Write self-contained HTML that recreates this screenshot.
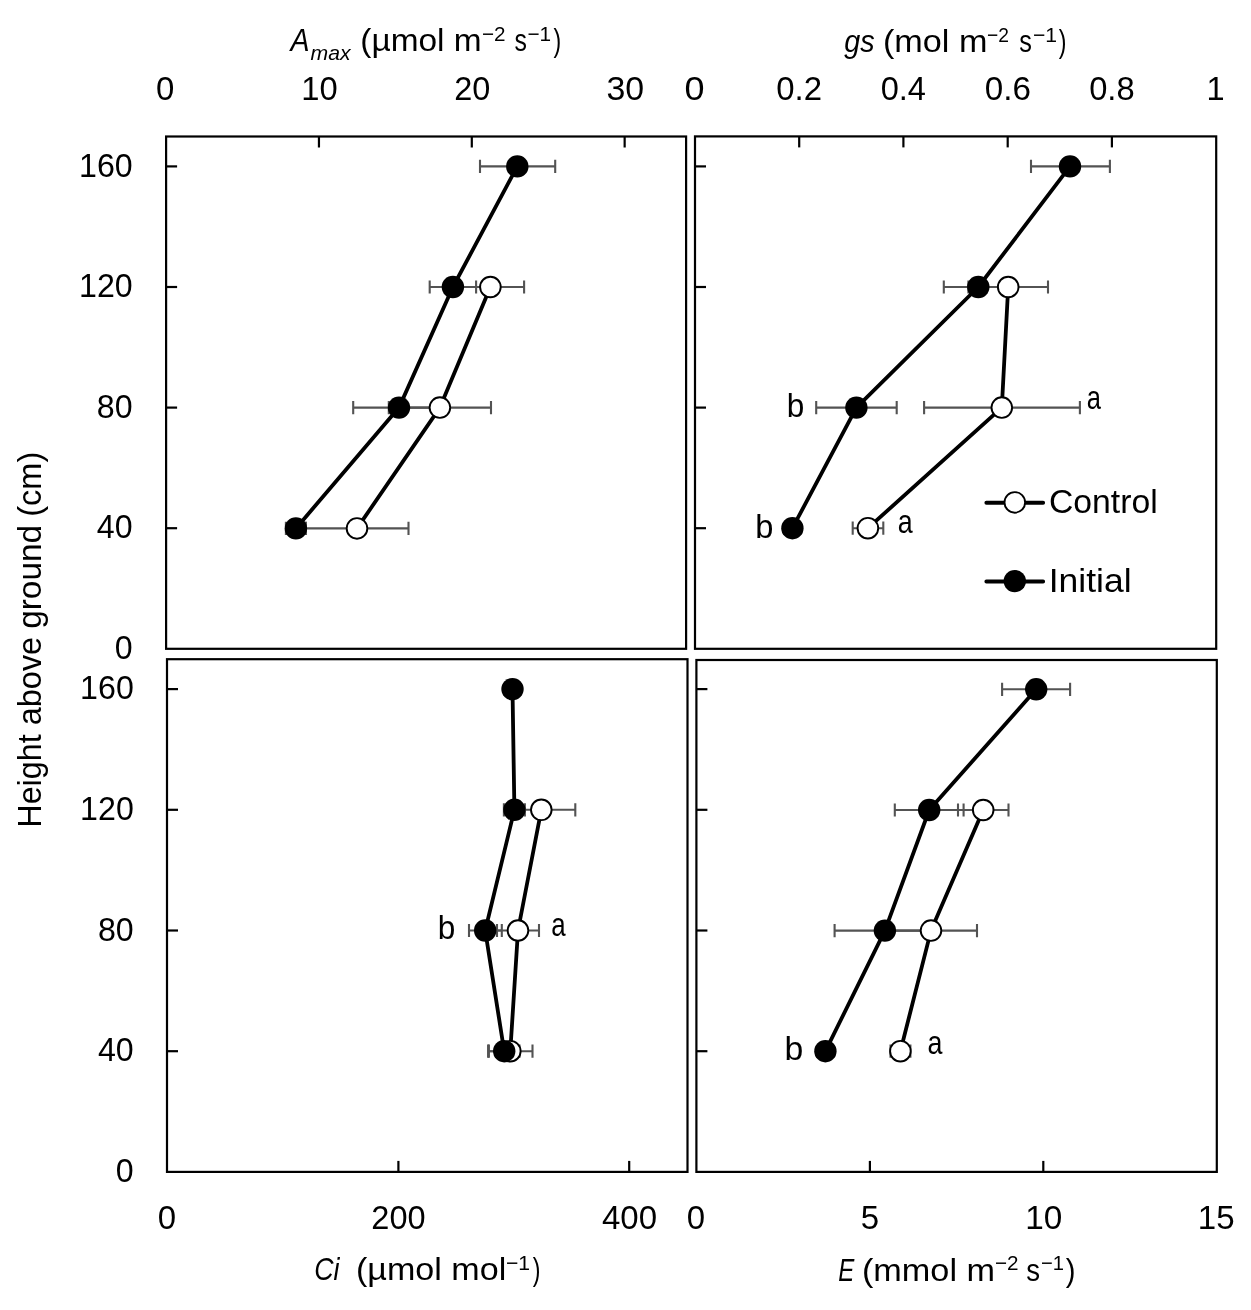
<!DOCTYPE html>
<html><head><meta charset="utf-8"><style>
html,body{margin:0;padding:0;background:#fff;}
svg{display:block;filter:grayscale(1);}
text{font-family:"Liberation Sans", sans-serif;fill:#000;}
</style></head><body>
<svg width="1251" height="1310" viewBox="0 0 1251 1310">
<rect width="1251" height="1310" fill="#fff"/>
<g id="frames">
<rect x="166.1" y="136.5" width="520.00" height="512.30" fill="none" stroke="#000" stroke-width="2.2"/>
<rect x="695.0" y="136.4" width="521.20" height="512.40" fill="none" stroke="#000" stroke-width="2.2"/>
<rect x="167.0" y="659.2" width="520.50" height="512.70" fill="none" stroke="#000" stroke-width="2.2"/>
<rect x="696.4" y="660.0" width="520.40" height="511.90" fill="none" stroke="#000" stroke-width="2.2"/>
<line x1="166.1" y1="166.4" x2="177.1" y2="166.4" stroke="#000" stroke-width="2.2"/>
<line x1="166.1" y1="287.0" x2="177.1" y2="287.0" stroke="#000" stroke-width="2.2"/>
<line x1="166.1" y1="407.6" x2="177.1" y2="407.6" stroke="#000" stroke-width="2.2"/>
<line x1="166.1" y1="528.2" x2="177.1" y2="528.2" stroke="#000" stroke-width="2.2"/>
<line x1="695.0" y1="166.4" x2="706.0" y2="166.4" stroke="#000" stroke-width="2.2"/>
<line x1="695.0" y1="287.0" x2="706.0" y2="287.0" stroke="#000" stroke-width="2.2"/>
<line x1="695.0" y1="407.6" x2="706.0" y2="407.6" stroke="#000" stroke-width="2.2"/>
<line x1="695.0" y1="528.2" x2="706.0" y2="528.2" stroke="#000" stroke-width="2.2"/>
<line x1="167.0" y1="689.1" x2="178.0" y2="689.1" stroke="#000" stroke-width="2.2"/>
<line x1="167.0" y1="809.8" x2="178.0" y2="809.8" stroke="#000" stroke-width="2.2"/>
<line x1="167.0" y1="930.5" x2="178.0" y2="930.5" stroke="#000" stroke-width="2.2"/>
<line x1="167.0" y1="1051.2" x2="178.0" y2="1051.2" stroke="#000" stroke-width="2.2"/>
<line x1="696.4" y1="689.1" x2="707.4" y2="689.1" stroke="#000" stroke-width="2.2"/>
<line x1="696.4" y1="809.8" x2="707.4" y2="809.8" stroke="#000" stroke-width="2.2"/>
<line x1="696.4" y1="930.5" x2="707.4" y2="930.5" stroke="#000" stroke-width="2.2"/>
<line x1="696.4" y1="1051.2" x2="707.4" y2="1051.2" stroke="#000" stroke-width="2.2"/>
<line x1="318.95" y1="136.5" x2="318.95" y2="147.5" stroke="#000" stroke-width="2.2"/>
<line x1="471.8" y1="136.5" x2="471.8" y2="147.5" stroke="#000" stroke-width="2.2"/>
<line x1="624.65" y1="136.5" x2="624.65" y2="147.5" stroke="#000" stroke-width="2.2"/>
<line x1="799.2" y1="136.4" x2="799.2" y2="147.4" stroke="#000" stroke-width="2.2"/>
<line x1="903.4" y1="136.4" x2="903.4" y2="147.4" stroke="#000" stroke-width="2.2"/>
<line x1="1007.7" y1="136.4" x2="1007.7" y2="147.4" stroke="#000" stroke-width="2.2"/>
<line x1="1111.9" y1="136.4" x2="1111.9" y2="147.4" stroke="#000" stroke-width="2.2"/>
<line x1="398.4" y1="1171.9" x2="398.4" y2="1160.9" stroke="#000" stroke-width="2.2"/>
<line x1="629.2" y1="1171.9" x2="629.2" y2="1160.9" stroke="#000" stroke-width="2.2"/>
<line x1="869.9" y1="1171.9" x2="869.9" y2="1160.9" stroke="#000" stroke-width="2.2"/>
<line x1="1043.3" y1="1171.9" x2="1043.3" y2="1160.9" stroke="#000" stroke-width="2.2"/>
</g>
<g id="eb" stroke="#535353" stroke-width="2.1" fill="none">
<path d="M456.7 287.0H524.1M456.7 280.4V293.6M524.1 280.4V293.6"/>
<path d="M388.8 407.6H491.0M388.8 401.0V414.20000000000005M491.0 401.0V414.20000000000005"/>
<path d="M305.5 528.4H408.5M305.5 521.8V535.0M408.5 521.8V535.0"/>
<path d="M480.0 166.4H555.2M480.0 159.8V173.0M555.2 159.8V173.0"/>
<path d="M429.7 287.0H476.1M429.7 280.4V293.6M476.1 280.4V293.6"/>
<path d="M353.2 407.6H444.8M353.2 401.0V414.20000000000005M444.8 401.0V414.20000000000005"/>
<path d="M285.9 528.4H305.9M285.9 521.8V535.0M305.9 521.8V535.0"/>
<path d="M968.4 287.0H1048.0M968.4 280.4V293.6M1048.0 280.4V293.6"/>
<path d="M924.1 407.6H1079.9M924.1 401.0V414.20000000000005M1079.9 401.0V414.20000000000005"/>
<path d="M852.7 528.2H883.3M852.7 521.6V534.8000000000001M883.3 521.6V534.8000000000001"/>
<path d="M1031.0 166.4H1109.9M1031.0 159.8V173.0M1109.9 159.8V173.0"/>
<path d="M943.8 287.0H1012.8M943.8 280.4V293.6M1012.8 280.4V293.6"/>
<path d="M816.2 407.6H896.7M816.2 401.0V414.20000000000005M896.7 401.0V414.20000000000005"/>
<path d="M507.3 809.8H575.3M507.3 803.1999999999999V816.4M575.3 803.1999999999999V816.4"/>
<path d="M497.0 930.5H539.0M497.0 923.9V937.1M539.0 923.9V937.1"/>
<path d="M488.1 1051.2H532.5M488.1 1044.6000000000001V1057.8M532.5 1044.6000000000001V1057.8"/>
<path d="M503.9 809.8H524.9M503.9 803.1999999999999V816.4M524.9 803.1999999999999V816.4"/>
<path d="M469.0 930.5H501.8M469.0 923.9V937.1M501.8 923.9V937.1"/>
<path d="M488.9 1051.2H519.5M488.9 1044.6000000000001V1057.8M519.5 1044.6000000000001V1057.8"/>
<path d="M958.0 810.0H1008.5M958.0 803.4V816.6M1008.5 803.4V816.6"/>
<path d="M885.0 930.6H977.0M885.0 924.0V937.2M977.0 924.0V937.2"/>
<path d="M890.5 1051.2H910.4M890.5 1044.6000000000001V1057.8M910.4 1044.6000000000001V1057.8"/>
<path d="M1002.1 689.3H1070.1M1002.1 682.6999999999999V695.9M1070.1 682.6999999999999V695.9"/>
<path d="M894.8 810.0H963.6M894.8 803.4V816.6M963.6 803.4V816.6"/>
<path d="M834.6 930.6H935.2M834.6 924.0V937.2M935.2 924.0V937.2"/>
</g>
<g id="lines" stroke="#000" stroke-width="3.8" fill="none" stroke-linejoin="round">
<path d="M490.4 287.0 L439.9 407.6 L357.0 528.4"/>
<path d="M517.3 166.4 L452.9 287.0 L399.0 407.6 L295.9 528.4"/>
<path d="M1008.2 287.0 L1001.8 407.6 L867.9 528.2"/>
<path d="M1070.0 166.4 L978.3 287.0 L856.4 407.6 L792.4 528.2"/>
<path d="M541.3 809.8 L518.0 930.5 L510.3 1051.2"/>
<path d="M512.5 689.1 L514.4 809.8 L485.2 930.5 L504.2 1051.2"/>
<path d="M983.2 810.0 L931.0 930.6 L900.4 1051.2"/>
<path d="M1036.2 689.3 L929.2 810.0 L884.9 930.6 L825.4 1051.2"/>
</g>
<g id="open" fill="#fff" stroke="#000" stroke-width="1.9">
<circle cx="490.4" cy="287.0" r="10.299999999999999"/>
<circle cx="439.9" cy="407.6" r="10.299999999999999"/>
<circle cx="357.0" cy="528.4" r="10.299999999999999"/>
<circle cx="1008.2" cy="287.0" r="10.299999999999999"/>
<circle cx="1001.8" cy="407.6" r="10.299999999999999"/>
<circle cx="867.9" cy="528.2" r="10.299999999999999"/>
<circle cx="541.3" cy="809.8" r="10.299999999999999"/>
<circle cx="518.0" cy="930.5" r="10.299999999999999"/>
<circle cx="510.3" cy="1051.2" r="10.299999999999999"/>
<circle cx="983.2" cy="810.0" r="10.299999999999999"/>
<circle cx="931.0" cy="930.6" r="10.299999999999999"/>
<circle cx="900.4" cy="1051.2" r="10.299999999999999"/>
</g>
<g id="fill" fill="#000">
<circle cx="517.3" cy="166.4" r="11.2"/>
<circle cx="452.9" cy="287.0" r="11.2"/>
<circle cx="399.0" cy="407.6" r="11.2"/>
<circle cx="295.9" cy="528.4" r="11.2"/>
<circle cx="1070.0" cy="166.4" r="11.2"/>
<circle cx="978.3" cy="287.0" r="11.2"/>
<circle cx="856.4" cy="407.6" r="11.2"/>
<circle cx="792.4" cy="528.2" r="11.2"/>
<circle cx="512.5" cy="689.1" r="11.2"/>
<circle cx="514.4" cy="809.8" r="11.2"/>
<circle cx="485.2" cy="930.5" r="11.2"/>
<circle cx="504.2" cy="1051.2" r="11.2"/>
<circle cx="1036.2" cy="689.3" r="11.2"/>
<circle cx="929.2" cy="810.0" r="11.2"/>
<circle cx="884.9" cy="930.6" r="11.2"/>
<circle cx="825.4" cy="1051.2" r="11.2"/>
</g>
<path d="M986.4 502.8H1043.1M986.4 581.4H1043.1" stroke="#000" stroke-width="4" stroke-linecap="round" fill="none"/>
<circle cx="1014.8" cy="502.4" r="10.299999999999999" fill="#fff" stroke="#000" stroke-width="1.9"/>
<circle cx="1014.8" cy="581.1" r="11.2" fill="#000"/>
<text x="156.04" y="100.30" font-size="33" textLength="18.35" lengthAdjust="spacingAndGlyphs">0</text>
<text x="301.24" y="100.30" font-size="33" textLength="36.44" lengthAdjust="spacingAndGlyphs">10</text>
<text x="454.28" y="100.30" font-size="33" textLength="36.10" lengthAdjust="spacingAndGlyphs">20</text>
<text x="606.44" y="100.30" font-size="33" textLength="37.69" lengthAdjust="spacingAndGlyphs">30</text>
<text x="684.46" y="100.30" font-size="33" textLength="20.02" lengthAdjust="spacingAndGlyphs">0</text>
<text x="776.18" y="100.30" font-size="33" textLength="45.77" lengthAdjust="spacingAndGlyphs">0.2</text>
<text x="880.70" y="100.30" font-size="33" textLength="45.29" lengthAdjust="spacingAndGlyphs">0.4</text>
<text x="984.77" y="100.30" font-size="33" textLength="46.13" lengthAdjust="spacingAndGlyphs">0.6</text>
<text x="1089.19" y="100.30" font-size="33" textLength="45.42" lengthAdjust="spacingAndGlyphs">0.8</text>
<text x="1206.56" y="100.30" font-size="33" textLength="18.11" lengthAdjust="spacingAndGlyphs">1</text>
<text x="79.02" y="176.60" font-size="33" textLength="53.68" lengthAdjust="spacingAndGlyphs">160</text>
<text x="79.02" y="297.20" font-size="33" textLength="53.68" lengthAdjust="spacingAndGlyphs">120</text>
<text x="96.87" y="417.80" font-size="33" textLength="35.79" lengthAdjust="spacingAndGlyphs">80</text>
<text x="96.87" y="538.40" font-size="33" textLength="35.79" lengthAdjust="spacingAndGlyphs">40</text>
<text x="114.73" y="659.00" font-size="33" textLength="17.89" lengthAdjust="spacingAndGlyphs">0</text>
<text x="80.12" y="699.30" font-size="33" textLength="53.68" lengthAdjust="spacingAndGlyphs">160</text>
<text x="80.12" y="820.00" font-size="33" textLength="53.68" lengthAdjust="spacingAndGlyphs">120</text>
<text x="97.97" y="940.70" font-size="33" textLength="35.79" lengthAdjust="spacingAndGlyphs">80</text>
<text x="97.97" y="1061.40" font-size="33" textLength="35.79" lengthAdjust="spacingAndGlyphs">40</text>
<text x="115.83" y="1182.10" font-size="33" textLength="17.89" lengthAdjust="spacingAndGlyphs">0</text>
<text x="157.64" y="1228.50" font-size="33" textLength="18.35" lengthAdjust="spacingAndGlyphs">0</text>
<text x="371.37" y="1228.50" font-size="33" textLength="54.24" lengthAdjust="spacingAndGlyphs">200</text>
<text x="601.98" y="1228.50" font-size="33" textLength="55.06" lengthAdjust="spacingAndGlyphs">400</text>
<text x="686.84" y="1229.00" font-size="33" textLength="18.35" lengthAdjust="spacingAndGlyphs">0</text>
<text x="860.74" y="1229.00" font-size="33" textLength="18.35" lengthAdjust="spacingAndGlyphs">5</text>
<text x="1025.30" y="1229.00" font-size="33" textLength="37.12" lengthAdjust="spacingAndGlyphs">10</text>
<text x="1197.82" y="1229.00" font-size="33" textLength="36.78" lengthAdjust="spacingAndGlyphs">15</text>
<text x="290.43" y="51.30" font-size="32" font-style="italic" textLength="19.06" lengthAdjust="spacingAndGlyphs">A</text>
<text x="310.48" y="59.70" font-size="21" font-style="italic" textLength="40.07" lengthAdjust="spacingAndGlyphs">max</text>
<text x="360.30" y="51.30" font-size="32" textLength="121.33" lengthAdjust="spacingAndGlyphs">(µmol m</text>
<text x="481.97" y="41.30" font-size="21" textLength="23.57" lengthAdjust="spacingAndGlyphs">−2</text>
<text x="514.56" y="51.30" font-size="32" textLength="12.41" lengthAdjust="spacingAndGlyphs">s</text>
<text x="527.46" y="41.00" font-size="21" textLength="23.68" lengthAdjust="spacingAndGlyphs">−1</text>
<text x="553.47" y="51.30" font-size="32" textLength="7.69" lengthAdjust="spacingAndGlyphs">)</text>
<text x="844.26" y="51.50" font-size="32" font-style="italic" textLength="30.35" lengthAdjust="spacingAndGlyphs">gs</text>
<text x="882.95" y="51.50" font-size="32" textLength="104.46" lengthAdjust="spacingAndGlyphs">(mol m</text>
<text x="987.04" y="41.50" font-size="21" textLength="21.93" lengthAdjust="spacingAndGlyphs">−2</text>
<text x="1019.24" y="51.50" font-size="32" textLength="12.64" lengthAdjust="spacingAndGlyphs">s</text>
<text x="1032.94" y="41.50" font-size="21" textLength="24.12" lengthAdjust="spacingAndGlyphs">−1</text>
<text x="1058.77" y="51.50" font-size="32" textLength="7.69" lengthAdjust="spacingAndGlyphs">)</text>
<text x="314.13" y="1280.00" font-size="32" font-style="italic" textLength="25.32" lengthAdjust="spacingAndGlyphs">Ci</text>
<text x="355.96" y="1280.00" font-size="32" textLength="150.25" lengthAdjust="spacingAndGlyphs">(µmol mol</text>
<text x="505.94" y="1270.00" font-size="21" textLength="24.12" lengthAdjust="spacingAndGlyphs">−1</text>
<text x="532.77" y="1280.00" font-size="32" textLength="7.69" lengthAdjust="spacingAndGlyphs">)</text>
<text x="838.28" y="1280.60" font-size="32" font-style="italic" textLength="16.03" lengthAdjust="spacingAndGlyphs">E</text>
<text x="861.95" y="1280.60" font-size="32" textLength="133.09" lengthAdjust="spacingAndGlyphs">(mmol m</text>
<text x="994.97" y="1270.00" font-size="21" textLength="23.57" lengthAdjust="spacingAndGlyphs">−2</text>
<text x="1026.17" y="1280.60" font-size="32" textLength="13.79" lengthAdjust="spacingAndGlyphs">s</text>
<text x="1040.99" y="1270.00" font-size="21" textLength="23.02" lengthAdjust="spacingAndGlyphs">−1</text>
<text x="1065.71" y="1280.60" font-size="32" textLength="9.74" lengthAdjust="spacingAndGlyphs">)</text>
<text x="786.75" y="416.60" font-size="33" textLength="17.55" lengthAdjust="spacingAndGlyphs">b</text>
<text x="1086.65" y="409.00" font-size="33" textLength="14.18" lengthAdjust="spacingAndGlyphs">a</text>
<text x="755.18" y="538.00" font-size="33" textLength="18.17" lengthAdjust="spacingAndGlyphs">b</text>
<text x="897.79" y="533.20" font-size="33" textLength="14.94" lengthAdjust="spacingAndGlyphs">a</text>
<text x="437.75" y="939.40" font-size="33" textLength="17.55" lengthAdjust="spacingAndGlyphs">b</text>
<text x="551.14" y="936.40" font-size="33" textLength="14.40" lengthAdjust="spacingAndGlyphs">a</text>
<text x="784.50" y="1059.60" font-size="33" textLength="18.79" lengthAdjust="spacingAndGlyphs">b</text>
<text x="927.49" y="1054.00" font-size="33" textLength="14.94" lengthAdjust="spacingAndGlyphs">a</text>
<text x="1049.01" y="513.20" font-size="34" textLength="108.70" lengthAdjust="spacingAndGlyphs">Control</text>
<text x="1048.71" y="591.80" font-size="34" textLength="82.86" lengthAdjust="spacingAndGlyphs">Initial</text>
<text x="-2.58" y="0" font-size="32.6" textLength="93.37" lengthAdjust="spacingAndGlyphs" transform="translate(40.5 825.1) rotate(-90)">Height</text>
<text x="-1.46" y="0" font-size="32.6" textLength="88.41" lengthAdjust="spacingAndGlyphs" transform="translate(40.5 723.8) rotate(-90)">above</text>
<text x="-1.34" y="0" font-size="32.6" textLength="103.97" lengthAdjust="spacingAndGlyphs" transform="translate(40.5 627.5) rotate(-90)">ground</text>
<text x="-1.95" y="0" font-size="32.6" textLength="64.93" lengthAdjust="spacingAndGlyphs" transform="translate(40.5 514.8) rotate(-90)">(cm)</text>
</svg>
</body></html>
